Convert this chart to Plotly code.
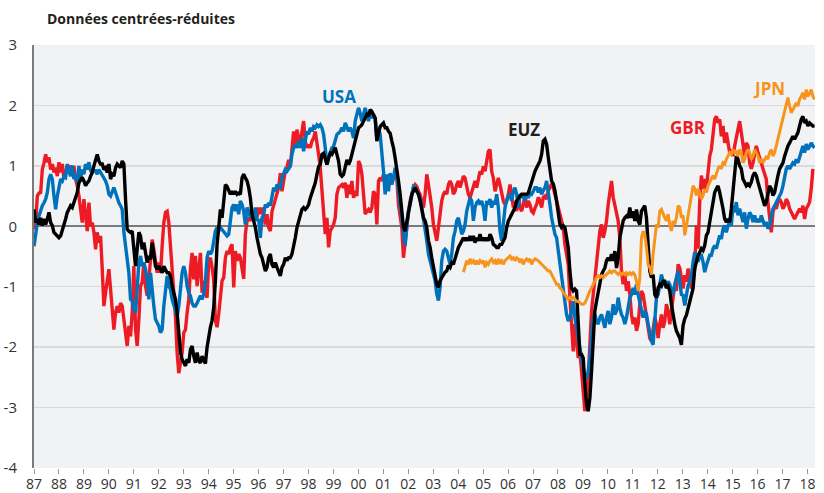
import numpy as np
import plotly.graph_objects as go

# ---------------- data ----------------
START_YEAR = 1987.0
STEP_YEARS = 0.0667          # spacing between observations (~0.8 month)
JPN_FIRST = 258              # index of the first JPN observation (2004)

GBR = [
    # 1987 - 1993
    -0.05, 0.06, 0.50, 0.55, 0.56, 0.94, 1.05, 1.19, 1.06, 1.14,
    0.94, 1.03, 0.89, 0.97, 0.83, 1.06, 0.89, 1.03, 0.78, 0.92,
    1.00, 0.95, 1.00, 0.92, 1.00, 0.78, 0.67, 0.50, 0.30, 0.06,
    0.45, 0.23, -0.08, 0.39, 0.00, 0.06, -0.10, -0.38, -0.10, -0.27,
    -0.16, -0.71, -1.32, -1.10, -0.88, -0.71, -1.04, -1.32, -1.71, -1.43,
    -1.32, -1.43, -1.27, -1.32, -1.54, -1.87, -1.98, -1.65, -1.82, -1.43,
    -0.66, -1.71, -1.98, -1.54, -0.99, -0.93, -0.60, -0.99, -1.15, -0.88,
    -0.44, -0.22, -0.38, -0.60, -0.77, -0.60, -0.77, -0.33, 0.06, 0.23,
    0.25, 0.06, -0.33, -0.88, -1.21, -1.49, -2.09, -2.43, -2.26, -2.09,
    -1.76, -1.71, -1.43, -1.21, -0.71, -0.44, -0.88, -0.49, -0.99, -0.66,
    -0.44, -1.10,
    # 1993 - 2000
    -0.90, -1.12, -1.18, -0.57, -0.52, -0.68, -0.90, -1.56, -1.67, -1.45,
    -1.12, -0.90, -0.85, -0.52, -0.41, -0.46, -0.35, -0.30, -1.01, -0.41,
    -0.57, -0.46, -0.52, -0.68, -0.87, -0.13, 0.09, 0.14, 0.09, 0.20,
    0.09, 0.28, 0.14, 0.31, 0.20, 0.31, 0.20, 0.03, 0.20, -0.02,
    -0.08, 0.25, 0.36, 0.47, 0.58, 0.64, 0.88, 0.58, 0.75, 0.91,
    0.97, 1.10, 0.99, 1.35, 1.57, 1.35, 1.60, 1.46, 1.35, 1.57,
    1.74, 1.41, 1.30, 1.35, 1.30, 1.41, 1.46, 1.57, 1.41, 1.19,
    0.97, 0.53, 0.20, -0.13, 0.14, -0.35, -0.08, -0.02, 0.03, 0.14,
    0.53, 0.64, 0.66, 0.69, 0.64, 0.72, 0.47, 0.69, 0.53, 0.75,
    0.47, 0.58, 0.50, 1.08, 1.02, 0.86, 0.53, 0.20, 0.25, 0.28,
    # 2000 - 2007
    0.23, 0.31, 0.58, 0.53, 0.03, 0.75, 0.80, 0.75, 0.86, 0.75,
    0.64, 0.75, 0.86, 0.75, 0.80, 0.91, 0.80, 0.36, 0.20, -0.02,
    -0.52, -0.24, 0.09, 0.25, 0.42, 0.53, 0.64, 0.69, 0.66, 0.58,
    0.53, 0.42, 0.31, 0.53, 0.86, 0.69, 0.53, 0.31, 0.03, -0.13,
    -0.24, -0.02, 0.25, 0.42, 0.53, 0.58, 0.53, 0.69, 0.75, 0.69,
    0.53, 0.58, 0.69, 0.75, 0.64, 0.75, 0.83, 0.80, 0.64, 0.53,
    0.47, 0.58, 0.69, 0.75, 0.64, 0.80, 0.91, 0.86, 0.99, 0.91,
    1.08, 1.24, 1.27, 0.91, 0.80, 0.58, 0.69, 0.80, 0.69, 0.53,
    0.42, 0.36, 0.42, 0.53, 0.69, 0.53, 0.31, 0.42, 0.25, 0.53,
    0.31, 0.25, 0.36, 0.53, 0.31, 0.42, 0.36, 0.25, 0.22, 0.30,
    # 2007 - 2013
    0.36, 0.48, 0.42, 0.31, 0.48, 0.50, 0.45, 0.59, 0.64, 0.70,
    0.64, 0.53, 0.42, 0.31, 0.20, 0.09, -0.02, -0.30, -0.52, -0.63,
    -1.18, -1.62, -2.07, -1.62, -1.85, -2.18, -2.07, -2.40, -2.73, -3.06,
    -2.84, -2.51, -1.96, -1.40, -1.13, -0.85, -0.63, -0.35, -0.08, 0.03,
    -0.19, -0.08, 0.09, 0.36, 0.59, 0.75, 0.48, 0.36, 0.20, 0.09,
    -0.19, -0.74, -0.96, -0.80, -1.07, -0.91, -1.13, -1.46, -1.62, -1.51,
    -1.73, -1.62, -1.29, -1.07, -1.13, -1.29, -1.46, -1.62, -1.85, -1.90,
    -1.73, -1.51, -1.62, -1.85, -1.62, -1.46, -1.68, -1.57, -1.29, -1.40,
    -1.62, -1.40, -1.18, -0.96, -1.07, -0.63, -0.69, -0.85,
    # 2013 - 2018
    -1.03, -0.81, -0.92, -0.70, -0.92, -1.03, -0.92, -0.70, 0.01, -0.37,
    0.40, 0.84, 0.62, 0.78, 0.62, 0.95, 1.16, 1.27, 1.49, 1.77,
    1.82, 1.71, 1.77, 1.49, 1.66, 1.38, 1.55, 1.33, 1.22, 1.27,
    1.16, 1.33, 1.49, 1.66, 1.74, 1.55, 1.33, 1.16, 1.38, 1.33,
    1.05, 0.95, 1.05, 1.22, 1.33, 1.22, 1.11, 1.05, 0.95, 0.84,
    0.78, 0.40, 0.12, -0.10, 0.23, 0.34, 0.29, 0.40, 0.45, 0.40,
    0.29, 0.34, 0.45, 0.40, 0.29, 0.23, 0.18, 0.12, 0.18, 0.23,
    0.29, 0.23, 0.34, 0.12, 0.29, 0.34, 0.40, 0.62, 0.95,
]

USA = [
    # 1987 - 1993
    -0.33, -0.10, 0.06, 0.17, 0.28, 0.34, 0.39, 0.45, 0.56, 0.78,
    0.86, 0.78, 0.50, 0.28, 0.50, 0.67, 0.78, 0.75, 0.83, 0.81,
    1.03, 0.92, 0.83, 1.00, 0.78, 0.86, 0.72, 1.00, 0.78, 0.94,
    0.86, 1.03, 0.94, 1.06, 0.92, 0.89, 0.92, 0.92, 0.86, 0.94,
    0.89, 0.83, 0.78, 0.75, 0.67, 0.53, 0.50, 0.59, 0.64, 0.56,
    0.45, 0.39, 0.34, 0.28, -0.10, -0.33, -0.55, -0.77, -1.21, -1.24,
    -1.38, -1.43, -1.04, -0.60, -0.49, -0.66, -0.60, -0.71, -0.88, -1.21,
    -0.77, -1.10, -1.32, -1.54, -1.60, -1.65, -1.76, -1.71, -1.32, -1.04,
    -0.82, -0.99, -1.04, -1.21, -1.32, -1.43, -1.49, -1.32, -0.99, -0.77,
    -0.66, -0.77, -0.99, -1.10, -1.15, -1.27, -1.32, -1.32, -1.27, -1.21,
    -1.15, -1.21,
    # 1993 - 2000
    -1.12, -0.90, -0.52, -0.41, -0.46, -0.41, -0.24, -0.08, -0.02, -0.08,
    -0.02, -0.05, -0.08, -0.13, -0.16, -0.13, 0.09, 0.31, 0.36, 0.25,
    0.36, 0.20, 0.42, 0.36, 0.25, 0.03, 0.31, 0.25, 0.14, 0.25,
    0.09, 0.31, 0.09, 0.12, -0.19, 0.14, 0.20, 0.36, 0.31, 0.39,
    0.34, 0.53, 0.64, 0.58, 0.69, 0.66, 0.64, 0.80, 0.86, 0.94,
    0.91, 0.94, 0.99, 1.19, 1.30, 1.35, 1.30, 1.41, 1.30, 1.46,
    1.24, 1.41, 1.57, 1.52, 1.63, 1.57, 1.65, 1.63, 1.68, 1.65,
    1.68, 1.63, 1.52, 1.30, 1.02, 1.13, 1.21, 1.30, 1.32, 1.41,
    1.52, 1.54, 1.57, 1.63, 1.57, 1.71, 1.63, 1.57, 1.63, 1.57,
    1.46, 1.74, 1.85, 1.96, 1.87, 1.74, 1.85, 1.96, 1.85, 1.74,
    # 2000 - 2007
    1.90, 1.79, 1.85, 1.79, 1.46, 1.63, 1.52, 1.24, 0.91, 0.53,
    0.86, 0.58, 0.88, 0.69, 0.80, 0.97, 0.86, 0.58, 0.36, 0.09,
    -0.19, -0.32, -0.02, 0.25, 0.36, 0.53, 0.66, 0.64, 0.58, 0.55,
    0.47, 0.31, 0.14, -0.02, -0.24, -0.46, -0.57, -0.68, -0.79, -0.90,
    -1.12, -1.23, -1.01, -0.57, -0.41, -0.38, -0.41, -0.52, -0.63, -0.46,
    -0.19, -0.08, 0.09, 0.14, 0.01, -0.13, -0.08, 0.03, 0.25, 0.36,
    0.47, 0.42, 0.09, 0.31, 0.39, 0.42, 0.36, 0.42, 0.31, 0.09,
    0.42, 0.36, 0.45, 0.31, 0.42, 0.36, 0.53, 0.31, -0.08, -0.24,
    0.09, 0.31, 0.42, 0.50, 0.53, 0.42, 0.58, 0.64, 0.53, 0.31,
    0.53, 0.47, 0.53, 0.42, 0.53, 0.47, 0.55, 0.53, 0.58, 0.64,
    # 2007 - 2013
    0.64, 0.56, 0.64, 0.53, 0.59, 0.64, 0.75, 0.59, 0.36, 0.14,
    -0.02, -0.13, -0.19, -0.41, -0.63, -0.85, -1.13, -1.29, -1.46, -1.57,
    -1.51, -1.40, -1.24, -1.51, -1.68, -1.85, -1.96, -2.12, -2.29, -2.51,
    -2.51, -2.40, -2.18, -1.85, -1.51, -1.46, -1.57, -1.62, -1.51, -1.46,
    -1.57, -1.68, -1.51, -1.40, -1.62, -1.51, -1.29, -1.46, -1.40, -1.18,
    -1.35, -1.46, -1.51, -1.62, -1.51, -1.29, -1.18, -1.13, -1.02, -1.13,
    -0.96, -1.13, -1.24, -1.40, -1.51, -1.40, -1.46, -1.62, -1.79, -1.90,
    -1.96, -1.62, -1.18, -1.13, -0.91, -0.80, -0.91, -0.96, -1.02, -0.91,
    -0.96, -1.07, -1.13, -0.96, -0.85, -0.74, -0.91, -1.13,
    # 2013 - 2018
    -1.14, -1.31, -1.14, -0.98, -0.92, -0.81, -0.59, -0.43, -0.48, -0.59,
    -0.48, -0.48, -0.59, -0.76, -0.65, -0.54, -0.48, -0.48, -0.37, -0.32,
    -0.37, -0.26, -0.15, -0.21, -0.04, 0.01, -0.10, 0.01, 0.07, 0.01,
    0.34, 0.23, 0.40, 0.18, 0.29, 0.18, 0.07, 0.23, -0.04, 0.12,
    0.23, 0.18, 0.07, 0.18, 0.07, 0.12, 0.07, 0.18, 0.07, 0.01,
    0.07, -0.04, 0.01, 0.18, 0.29, 0.34, 0.40, 0.45, 0.51, 0.56,
    0.67, 0.84, 0.95, 1.00, 0.95, 1.00, 1.05, 1.03, 1.11, 1.05,
    1.16, 1.27, 1.33, 1.22, 1.36, 1.27, 1.33, 1.38, 1.33, 1.30,
]

EUZ = [
    # 1987 - 1993
    0.28, 0.06, 0.12, 0.03, 0.14, 0.01, 0.12, 0.03, 0.12, 0.23,
    0.06, 0.01, -0.10, -0.13, -0.16, -0.19, -0.16, -0.08, 0.01, 0.12,
    0.23, 0.28, 0.34, 0.31, 0.39, 0.45, 0.56, 0.72, 0.78, 0.81,
    0.75, 0.67, 0.72, 0.75, 0.83, 0.89, 1.00, 1.11, 1.19, 1.08,
    1.03, 1.03, 0.94, 0.97, 0.89, 1.03, 0.78, 0.86, 0.83, 0.97,
    1.03, 1.00, 0.97, 1.08, 1.03, 0.45, -0.05, -0.08, -0.10, -0.08,
    -0.44, -0.66, -0.38, -0.10, -0.16, -0.38, -0.27, -0.49, -0.60, -0.49,
    -0.55, -0.27, -0.44, -0.66, -0.71, -0.66, -0.71, -0.77, -0.66, -0.71,
    -0.77, -0.77, -0.82, -0.99, -1.10, -1.21, -1.43, -1.76, -2.09, -2.20,
    -2.26, -2.31, -2.20, -2.26, -2.04, -1.98, -2.15, -2.26, -2.09, -2.23,
    -2.26, -2.15,
    # 1993 - 2000
    -2.22, -2.27, -2.00, -1.78, -1.67, -1.56, -1.34, -0.90, -0.30, -0.02,
    0.28, 0.14, 0.36, 0.69, 0.66, 0.58, 0.53, 0.58, 0.53, 0.58,
    0.53, 0.55, 0.53, 0.80, 0.86, 0.80, 0.75, 0.64, 0.47, 0.20,
    0.09, -0.02, -0.19, -0.35, -0.46, -0.52, -0.63, -0.74, -0.68, -0.52,
    -0.46, -0.63, -0.68, -0.60, -0.68, -0.74, -0.82, -0.68, -0.63, -0.52,
    -0.57, -0.52, -0.52, -0.46, -0.35, -0.19, -0.02, 0.09, 0.20, 0.28,
    0.31, 0.28, 0.31, 0.36, 0.47, 0.55, 0.64, 0.72, 0.86, 0.99,
    1.02, 1.19, 1.21, 1.10, 1.02, 1.13, 1.21, 1.19, 1.24, 1.30,
    1.19, 1.08, 0.86, 0.83, 0.86, 1.02, 1.10, 1.02, 1.08, 1.19,
    1.30, 1.41, 1.52, 1.63, 1.65, 1.68, 1.74, 1.79, 1.85, 1.82,
    # 2000 - 2007
    1.93, 1.90, 1.85, 1.79, 1.41, 1.57, 1.65, 1.68, 1.71, 1.63,
    1.63, 1.57, 1.54, 1.41, 1.30, 1.13, 0.97, 0.75, 0.53, 0.25,
    -0.02, -0.08, 0.09, 0.20, 0.36, 0.53, 0.58, 0.64, 0.58, 0.53,
    0.42, 0.25, 0.14, 0.09, -0.02, -0.24, -0.35, -0.52, -0.68, -0.79,
    -0.96, -1.01, -0.90, -0.85, -0.79, -0.76, -0.74, -0.65, -0.68, -0.60,
    -0.63, -0.52, -0.46, -0.35, -0.30, -0.24, -0.19, -0.24, -0.19, -0.24,
    -0.16, -0.24, -0.16, -0.27, -0.19, -0.24, -0.13, -0.24, -0.19, -0.24,
    -0.19, -0.24, -0.13, -0.19, -0.30, -0.32, -0.35, -0.35, -0.30, -0.30,
    -0.24, -0.19, -0.02, 0.09, 0.14, 0.20, 0.25, 0.31, 0.42, 0.47,
    0.50, 0.53, 0.53, 0.53, 0.53, 0.55, 0.64, 0.75, 0.86, 0.91,
    # 2007 - 2013
    0.97, 1.03, 1.08, 1.19, 1.41, 1.44, 1.36, 1.14, 0.92, 0.75,
    0.70, 0.59, 0.42, 0.25, 0.03, -0.02, 0.01, -0.02, -0.19, -0.35,
    -0.74, -1.02, -1.07, -1.04, -1.07, -1.73, -2.12, -2.12, -2.18, -2.62,
    -2.95, -3.06, -2.84, -2.40, -1.96, -1.40, -1.24, -1.07, -0.91, -0.80,
    -0.74, -0.69, -0.57, -0.52, -0.57, -0.46, -0.57, -0.41, -0.69, -0.52,
    -0.19, -0.02, 0.09, 0.14, 0.17, 0.14, 0.31, 0.14, 0.25, 0.09,
    0.28, 0.09, 0.03, 0.25, 0.31, 0.34, 0.14, -0.35, -0.74, -0.85,
    -0.80, -1.13, -1.18, -1.02, -0.96, -0.99, -0.91, -0.91, -1.02, -0.99,
    -1.07, -1.29, -1.51, -1.62, -1.73, -1.79, -1.85, -1.96,
    # 2013 - 2018
    -1.64, -1.53, -1.47, -1.36, -1.25, -1.14, -1.03, -0.70, -0.59, -0.48,
    -0.43, -0.37, -0.40, -0.32, -0.15, -0.10, 0.07, 0.23, 0.45, 0.56,
    0.62, 0.67, 0.56, 0.45, 0.29, 0.12, 0.07, 0.12, 0.07, 0.29,
    0.56, 0.95, 1.16, 1.11, 1.00, 0.95, 0.78, 0.73, 0.67, 0.70,
    0.67, 0.73, 0.84, 0.89, 0.84, 0.73, 0.62, 0.51, 0.40, 0.34,
    0.40, 0.51, 0.67, 0.62, 0.51, 0.56, 0.73, 0.84, 0.95, 1.00,
    1.05, 1.16, 1.27, 1.33, 1.38, 1.44, 1.49, 1.44, 1.49, 1.55,
    1.66, 1.77, 1.82, 1.71, 1.74, 1.66, 1.71, 1.69, 1.66, 1.66,
]

JPN = [
    # 2004 - 2007
    -0.76, -0.68, -0.57, -0.63, -0.54, -0.60, -0.57, -0.63, -0.57, -0.63,
    -0.57, -0.60, -0.57, -0.68, -0.60, -0.63, -0.57, -0.54, -0.60, -0.57,
    -0.63, -0.54, -0.60, -0.57, -0.63, -0.57, -0.54, -0.52, -0.49, -0.54,
    -0.52, -0.57, -0.52, -0.54, -0.60, -0.54, -0.63, -0.57, -0.54, -0.57,
    -0.54, -0.63, -0.57, -0.54,
    # 2007 - 2013
    -0.55, -0.57, -0.60, -0.63, -0.66, -0.69, -0.71, -0.74, -0.74, -0.80,
    -0.85, -0.91, -0.96, -0.96, -1.02, -1.04, -1.10, -1.13, -1.18, -1.21,
    -1.18, -1.21, -1.18, -1.21, -1.24, -1.24, -1.27, -1.29, -1.29, -1.27,
    -1.21, -1.13, -1.07, -1.02, -0.96, -0.91, -0.85, -0.82, -0.85, -0.82,
    -0.85, -0.82, -0.80, -0.77, -0.74, -0.77, -0.74, -0.74, -0.77, -0.80,
    -0.77, -0.80, -0.77, -0.80, -0.77, -0.80, -0.77, -0.80, -0.77, -0.80,
    -0.91, -1.07, -0.85, -0.19, -0.08, -0.13, -0.35, -0.63, -0.69, -0.80,
    -0.46, -0.19, 0.03, -0.02, 0.25, 0.28, 0.20, 0.14, 0.09, 0.20,
    0.03, -0.08, 0.09, 0.03, 0.14, 0.34, 0.31, 0.14,
    # 2013 - 2018
    0.18, -0.15, 0.01, 0.18, 0.29, 0.51, 0.67, 0.62, 0.51, 0.62,
    0.56, 0.45, 0.51, 0.62, 0.56, 0.67, 0.73, 0.78, 0.84, 0.78,
    0.89, 0.95, 1.00, 0.95, 1.05, 1.03, 1.11, 1.16, 1.22, 1.19,
    1.27, 1.22, 1.25, 1.16, 1.27, 1.22, 1.05, 1.11, 1.22, 1.27,
    1.22, 1.11, 1.16, 1.27, 1.22, 1.16, 1.05, 1.11, 1.05, 1.11,
    1.16, 1.11, 1.22, 1.27, 1.16, 1.22, 1.33, 1.44, 1.60, 1.71,
    1.82, 1.93, 2.04, 2.13, 1.99, 1.88, 1.93, 1.99, 2.04, 1.99,
    2.10, 2.15, 2.21, 2.10, 2.26, 2.15, 2.21, 2.26, 2.15, 2.10,
]

TICK_YEARS = list(range(1987, 2019))
TICK_LABELS = ["%02d" % (y % 100) for y in TICK_YEARS]
Y_TICKS = [-4, -3, -2, -1, 0, 1, 2, 3]
Y_LABELS = ["-4", "-3", "-2", "-1", "0", "1", "2", "3"]

TITLE = "Données centrées-réduites"
SERIES_LABELS = {"USA": (1999.23, 2.14), "EUZ": (2006.64, 1.61),
                 "GBR": (2013.21, 1.64), "JPN": (2016.44, 2.28)}

# ---------------- figure ----------------
RED, BLUE, BLACK, ORANGE = "#ED1C24", "#0072BC", "#000000", "#F7941D"
n_obs = max(len(GBR), len(USA), len(EUZ), JPN_FIRST + len(JPN))
t = START_YEAR + np.arange(n_obs) * STEP_YEARS

fig = go.Figure()
for name, vals, first, color, width in [
    ("GBR", GBR, 0, RED, 3.4),
    ("USA", USA, 0, BLUE, 3.4),
    ("EUZ", EUZ, 0, BLACK, 3.4),
    ("JPN", JPN, JPN_FIRST, ORANGE, 3.0),
]:
    fig.add_trace(go.Scatter(
        x=t[first:first + len(vals)], y=vals, mode="lines", name=name,
        line=dict(color=color, width=width), hoverinfo="skip"))

FONT = "Open Sans, Lato, DejaVu Sans, sans-serif"
for name, color in [("USA", BLUE), ("EUZ", "#231F20"), ("GBR", RED), ("JPN", ORANGE)]:
    x, y = SERIES_LABELS[name]
    fig.add_annotation(x=x, y=y, text="<b>%s</b>" % name, showarrow=False,
                       font=dict(family=FONT, size=17, color=color),
                       xanchor="center", yanchor="middle")

fig.add_annotation(xref="paper", yref="paper", x=0.0141, y=1.0615,
                   text="<b>%s</b>" % TITLE, showarrow=False,
                   xanchor="left", yanchor="middle",
                   font=dict(family=FONT, size=14, color="#231F20"))

fig.update_layout(
    width=824, height=493,
    margin=dict(l=34, r=9, t=45, b=25, pad=0, autoexpand=False),
    paper_bgcolor="white", plot_bgcolor="#F1F2F4",
    showlegend=False,
    xaxis=dict(range=[1987.0, 2018.3], tickmode="array", automargin=False,
               tickvals=TICK_YEARS, ticktext=TICK_LABELS,
               ticks="outside", ticklen=5, tickwidth=1, tickcolor="#999999",
               ticklabelstandoff=-2,
               showgrid=False, zeroline=False, showline=False,
               tickfont=dict(family=FONT, size=14, color="#333333")),
    yaxis=dict(range=[-4, 3], tickmode="array", automargin=False,
               tickvals=Y_TICKS, ticktext=Y_LABELS,
               showgrid=True, gridcolor="#D9DADC", gridwidth=1.5,
               zeroline=True, zerolinecolor="#7A7A7A", zerolinewidth=2,
               showline=True, linecolor="#7A7A7A", linewidth=2,
               ticks="", ticklabelstandoff=12,
               tickfont=dict(family=FONT, size=15, color="#333333")),
)

fig.write_html(
    "out.html",
    config={"displayModeBar": False, "staticPlot": True},
    post_script="document.body.style.margin='0';document.body.style.padding='0';"
                "document.body.style.overflow='hidden';",
)
